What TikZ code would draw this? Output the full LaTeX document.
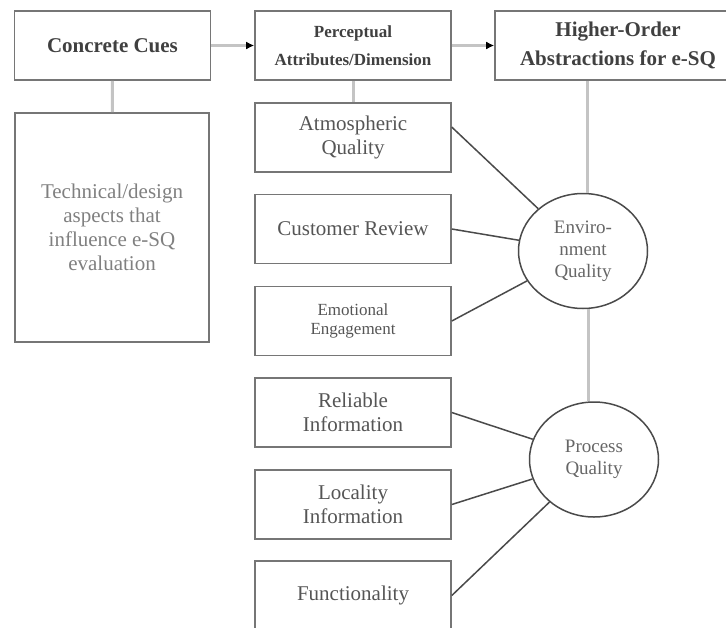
\documentclass[tikz,border=0pt]{standalone}
\usepackage{fontspec}
\setmainfont{Liberation Serif}
\usepackage{xcolor}
\usepackage{tikz}
\usetikzlibrary{shapes.geometric, arrows.meta, positioning}

\definecolor{boxgray}{HTML}{767676}
\definecolor{stemgray}{HTML}{C4C4C4}
\definecolor{linkgray}{HTML}{4A4A4A}
\definecolor{textgray}{HTML}{555555}

\begin{document}
\begin{tikzpicture}[x=1pt,y=-1pt]
\tikzstyle{cue}=[draw=boxgray,line width=1.6pt,rectangle,align=center,text=textgray,font=\fontsize{21}{24}\selectfont,minimum width=196pt,minimum height=69pt,inner sep=2pt]
\tikzstyle{head}=[cue,font=\fontsize{21}{29}\selectfont\bfseries,text=black!75]
\tikzstyle{factor}=[draw=linkgray,line width=1.5pt,ellipse,minimum width=129pt,minimum height=115pt,inner sep=0pt,align=center,text=black!60,font=\fontsize{19}{22}\selectfont]
\tikzstyle{stem}=[draw=stemgray,line width=3pt]
\tikzstyle{link}=[draw=linkgray,line width=1.5pt]
\tikzstyle{flow}=[draw=stemgray,line width=3pt,-{Latex[black,length=8pt,width=8pt]}]

\useasboundingbox (0,0) rectangle (726,627);
\clip (0,0) rectangle (726,627);

\node[head] (cues) at (112.5,45.5) {Concrete Cues};
\node[head,font=\fontsize{17}{28}\selectfont\bfseries] (perc) at (353,45.5) {Perceptual\\Attributes/Dimension};
\node[head,minimum width=246pt] (abst) at (618,45.5) {Higher-Order\\Abstractions for e-SQ};
\node[cue,minimum width=194pt,minimum height=229pt,text=black!50] (tech) at (112,227.5) {Technical/design\\aspects that\\influence e-SQ\\evaluation};

\node[cue] (atmo) at (353,137.5) {Atmospheric\\Quality};
\node[cue] (revw) at (353,229) {Customer Review};
\node[cue,font=\fontsize{17}{19}\selectfont] (emot) at (353,321) {Emotional\\Engagement};
\node[cue] (reli) at (353,412.5) {Reliable\\Information};
\node[cue] (loca) at (353,504.5) {Locality\\Information};
\node[cue] (func) at (353,595.5) {Functionality};

\node[factor] (envq) at (583,251) {Enviro-\\nment\\Quality};
\node[factor] (proq) at (594,459.5) {Process\\Quality};

\draw[flow] (cues) -- (perc);
\draw[flow] (perc) -- (abst);
\draw[stem] (cues) -- (tech);
\draw[stem] (perc) -- (atmo);
\draw[stem] ([xshift=4pt]envq.north |- abst.south) -- ([xshift=4pt]envq.north);
\draw[stem] ([xshift=5pt]envq.south) -- ([xshift=5pt]envq.south |- proq.north);

\draw[link] (atmo.6) -- (envq);
\draw[link] (revw.east) -- (envq);
\draw[link] (emot.east) -- (envq);
\draw[link] (reli.east) -- (proq);
\draw[link] (loca.east) -- (proq);
\draw[link] (func.east) -- (proq);

\end{tikzpicture}
\end{document}
